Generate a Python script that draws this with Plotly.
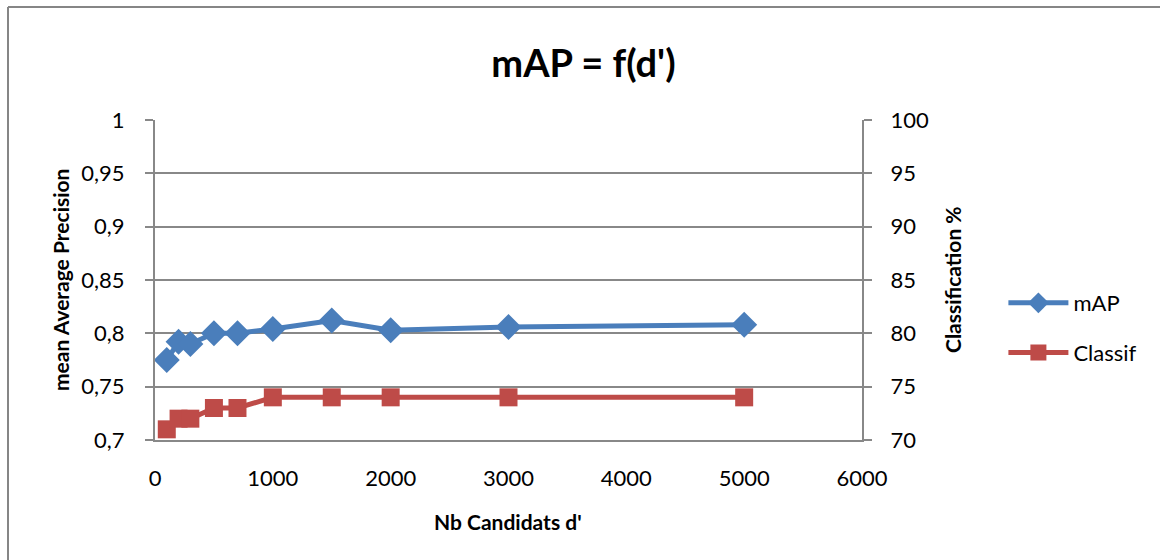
import plotly.graph_objects as go

x_vals = [100, 200, 300, 500, 700, 1000, 1500, 2000, 3000, 5000]
map_vals = [0.775, 0.792, 0.790, 0.800, 0.800, 0.804, 0.812, 0.803, 0.806, 0.808]
classif_vals = [71, 72, 72, 73, 73, 74, 74, 74, 74, 74]

left_ticks = [0.7, 0.75, 0.8, 0.85, 0.9, 0.95, 1.0]
left_labels = ["0,7", "0,75", "0,8", "0,85", "0,9", "0,95", "1"]
right_ticks = [70, 75, 80, 85, 90, 95, 100]
x_ticks = [0, 1000, 2000, 3000, 4000, 5000, 6000]

FONT = "Lato"
BLUE = "#4A7EBB"
RED = "#BE4B48"
GRID = "#888888"

fig = go.Figure()
fig.add_trace(go.Scatter(
    x=x_vals, y=map_vals, name="mAP", mode="lines+markers",
    line=dict(color=BLUE, width=5), legendgroup="a",
    marker=dict(symbol="diamond", size=20, color=BLUE),
    yaxis="y"))
fig.add_trace(go.Scatter(
    x=x_vals, y=classif_vals, name="Classif", mode="lines+markers",
    line=dict(color=RED, width=5), legendgroup="b",
    marker=dict(symbol="square", size=18, color=RED),
    yaxis="y2"))

fig.update_layout(
    width=1160, height=560,
    margin=dict(l=155, r=298, t=120, b=120),
    paper_bgcolor="white", plot_bgcolor="white",
    font=dict(family=FONT, size=22, color="black"),
    title=dict(text="<b>mAP = f(d')</b>", x=0.503, xanchor="center",
               y=1 - 64 / 560, yanchor="middle", yref="container",
               font=dict(family=FONT, size=38, color="black")),
    xaxis=dict(range=[0, 6000], tickvals=x_ticks, showgrid=False,
               showline=True, linecolor=GRID, linewidth=2, ticks="",
               zeroline=False, ticklabelstandoff=18),
    yaxis=dict(range=[0.7, 1.0], tickvals=left_ticks, ticktext=left_labels,
               showgrid=True, gridcolor=GRID, gridwidth=2,
               showline=True, linecolor=GRID, linewidth=2,
               ticks="outside", ticklen=8, tickcolor=GRID, tickwidth=2,
               zeroline=False, ticklabelstandoff=16),
    yaxis2=dict(range=[70, 100], tickvals=right_ticks, overlaying="y",
                side="right", showgrid=False, showline=True, linecolor=GRID,
                linewidth=2, ticks="outside", ticklen=8, tickcolor=GRID,
                tickwidth=2, zeroline=False, ticklabelstandoff=14),
    legend=dict(x=1.2, xanchor="left", y=(440 - 328) / 320, yanchor="middle",
                font=dict(size=22), tracegroupgap=18, itemwidth=60,
                bgcolor="rgba(0,0,0,0)"),
    annotations=[
        dict(text="<b>mean Average Precision</b>", textangle=-90,
             xref="paper", yref="paper", x=(60 - 155) / 707, y=0.5,
             xanchor="center", yanchor="middle", showarrow=False,
             font=dict(size=21)),
        dict(text="<b>Classification %</b>", textangle=-90,
             xref="paper", yref="paper", x=(952 - 155) / 707, y=0.5,
             xanchor="center", yanchor="middle", showarrow=False,
             font=dict(size=21)),
        dict(text="<b>Nb Candidats d'</b>",
             xref="paper", yref="paper", x=(508 - 155) / 707,
             y=-(521 - 440) / 320, xanchor="center", yanchor="middle",
             showarrow=False, font=dict(size=21)),
    ],
    shapes=[
        dict(type="line", xref="paper", yref="paper",
             x0=(8 - 155) / 707, x1=(1165 - 155) / 707,
             y0=(440 - 7) / 320, y1=(440 - 7) / 320,
             line=dict(color="#868686", width=2)),
        dict(type="line", xref="paper", yref="paper",
             x0=(8 - 155) / 707, x1=(8 - 155) / 707,
             y0=(440 - 7) / 320, y1=-(570 - 440) / 320,
             line=dict(color="#868686", width=2)),
    ],
)

fig.write_html("out.html")
